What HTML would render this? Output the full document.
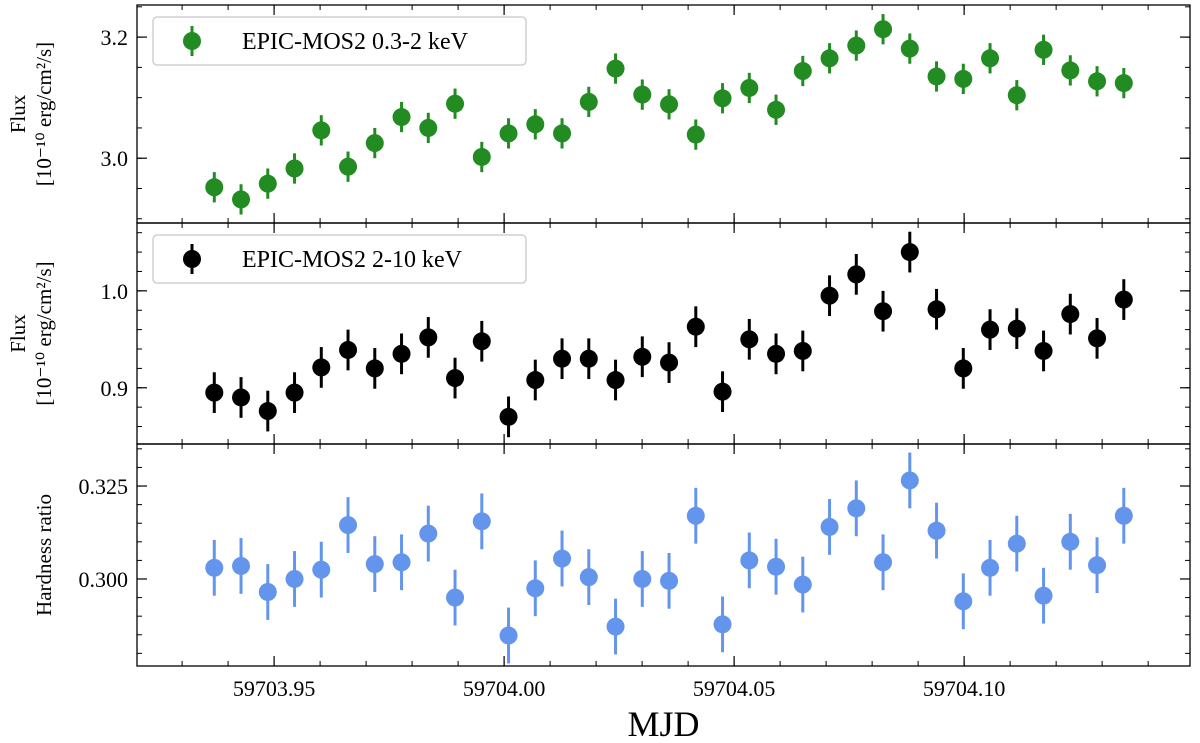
<!DOCTYPE html>
<html><head><meta charset="utf-8"><style>
body{margin:0;background:#fff}
svg{display:block;font-family:"Liberation Serif",serif}
</style></head><body>
<svg id="c" width="1200" height="743" xmlns="http://www.w3.org/2000/svg"></svg>
<script>
const mjd0 = 59703.937;
const step = 0.005815;
const nPts = 35;
const softFlux = [2.952,2.932,2.958,2.983,3.046,2.986,3.025,3.068,3.050,3.090,3.002,3.041,3.056,3.041,3.093,3.148,3.105,3.089,3.039,3.099,3.116,3.080,3.144,3.165,3.186,3.213,3.181,3.135,3.131,3.165,3.104,3.179,3.145,3.127,3.124];
const softErr = 0.025;
const hardFlux = [0.895,0.890,0.876,0.895,0.921,0.939,0.920,0.935,0.952,0.910,0.948,0.870,0.908,0.930,0.930,0.908,0.932,0.926,0.963,0.896,0.950,0.935,0.938,0.995,1.017,0.979,1.040,0.981,0.920,0.960,0.961,0.938,0.976,0.951,0.991];
const hardErr = 0.021;
const hrValues = [0.3030,0.3035,0.2965,0.3000,0.3025,0.3145,0.3040,0.3045,0.3122,0.2950,0.3155,0.2848,0.2975,0.3055,0.3005,0.2872,0.3000,0.2995,0.3170,0.2878,0.3050,0.3033,0.2985,0.3140,0.3190,0.3045,0.3265,0.3130,0.2940,0.3030,0.3095,0.2955,0.3100,0.3037,0.3170];
const hrErr = 0.0075;
const xTicks = [59703.95,59704.00,59704.05,59704.10];
const xTickLabels = ["59703.95","59704.00","59704.05","59704.10"];

const svg = document.getElementById('c');
const NS = 'http://www.w3.org/2000/svg';
function mk(tag, attrs, parent){const e=document.createElementNS(NS,tag);for(const k in attrs)e.setAttribute(k,attrs[k]);(parent||svg).appendChild(e);return e;}
const L=137,R=1190, xmin=59703.9202, xmax=59704.1491;
const xs = v => L + (v-xmin)/(xmax-xmin)*(R-L);

const panels = [
 {name:'soft', top:5, bot:223, ymin:2.893, ymax:3.253, data:softFlux, err:softErr, color:'#228b22', major:[3.0,3.2], labels:['3.0','3.2'], minorStep:0.05, legend:'EPIC-MOS2 0.3-2 keV', ylab:['Flux','[10\u207B\u00B9\u2070 erg/cm\u00B2/s]']},
 {name:'hard', top:223, bot:444, ymin:0.842, ymax:1.070, data:hardFlux, err:hardErr, color:'#000000', major:[0.9,1.0], labels:['0.9','1.0'], minorStep:0.02, legend:'EPIC-MOS2 2-10 keV', ylab:['Flux','[10\u207B\u00B9\u2070 erg/cm\u00B2/s]']},
 {name:'hr', top:444, bot:666, ymin:0.2766, ymax:0.3363, data:hrValues, err:hrErr, color:'#6495ed', major:[0.300,0.325], labels:['0.300','0.325'], minorStep:0.005, legend:null, ylab:['Hardness ratio']}
];

panels.forEach(p=>{
  const g = mk('g',{});
  
  
  const ys = v => p.bot - (v-p.ymin)/(p.ymax-p.ymin)*(p.bot-p.top);
  for(let v=Math.ceil(p.ymin/p.minorStep)*p.minorStep; v<p.ymax; v+=p.minorStep){
    const y=ys(v);
    mk('line',{x1:L,x2:L+5,y1:y,y2:y,stroke:'#000','stroke-width':1},g);
    mk('line',{x1:R,x2:R-5,y1:y,y2:y,stroke:'#000','stroke-width':1},g);
  }
  p.major.forEach((v,i)=>{
    const y=ys(v);
    mk('line',{x1:L,x2:L+10,y1:y,y2:y,stroke:'#000','stroke-width':1.2},g);
    mk('line',{x1:R,x2:R-10,y1:y,y2:y,stroke:'#000','stroke-width':1.2},g);
    const t=mk('text',{x:L-9,y:y+8,'text-anchor':'end','font-size':22},g);
    t.textContent=p.labels[i];
    
    
  });
  for(let v=59703.93; v<xmax; v+=0.01){
    const x=xs(v);
    mk('line',{x1:x,x2:x,y1:p.bot,y2:p.bot-5,stroke:'#000','stroke-width':1},g);
    mk('line',{x1:x,x2:x,y1:p.top,y2:p.top+5,stroke:'#000','stroke-width':1},g);
  }
  xTicks.forEach(v=>{
    const x=xs(v);
    mk('line',{x1:x,x2:x,y1:p.bot,y2:p.bot-10,stroke:'#000','stroke-width':1.2},g);
    mk('line',{x1:x,x2:x,y1:p.top,y2:p.top+10,stroke:'#000','stroke-width':1.2},g);
  });
  p.data.forEach((v,i)=>{
    const x=xs(mjd0+i*step);
    const eb=mk('line',{x1:x,x2:x,y1:ys(v-p.err),y2:ys(v+p.err),stroke:p.color,'stroke-width':3},g);
    
    
    const c=mk('circle',{cx:x,cy:ys(v),r:9,fill:p.color},g);
    
    
  });
  mk('rect',{x:L,y:p.top,width:R-L,height:p.bot-p.top,fill:'none',stroke:'#000','stroke-width':1.3},g);
  if(p.legend){
    const lg=mk('g',{},g);
    
    
    mk('rect',{x:153,y:p.top+12,width:373,height:48,rx:4,fill:'#fff',stroke:'#d0d0d0','stroke-width':1.5},lg);
    const cy=p.top+36;
    mk('line',{x1:192,x2:192,y1:cy-15,y2:cy+15,stroke:p.color,'stroke-width':3},lg);
    mk('circle',{cx:192,cy:cy,r:9,fill:p.color},lg);
    const t=mk('text',{x:242,y:cy+8,'font-size':24},lg);
    t.textContent=p.legend;
  }
  const yl=mk('text',{transform:`translate(0,${(p.top+p.bot)/2}) rotate(-90)`,'text-anchor':'middle','font-size':21},g);
  
  
  if(p.ylab.length===2){
    const a=mk('tspan',{x:0,y:25},yl); a.textContent=p.ylab[0];
    const b=mk('tspan',{x:0,y:51},yl); b.textContent=p.ylab[1];
  } else {
    const a=mk('tspan',{x:0,y:51},yl); a.textContent=p.ylab[0];
  }
});
xTicks.forEach((v,i)=>{
  const t=mk('text',{x:xs(v),y:696,'text-anchor':'middle','font-size':22});
  t.textContent=xTickLabels[i];
  
  
});
const xt=mk('text',{x:(L+R)/2,y:736,'text-anchor':'middle','font-size':36});
xt.textContent='MJD';


</script>
</body></html>
